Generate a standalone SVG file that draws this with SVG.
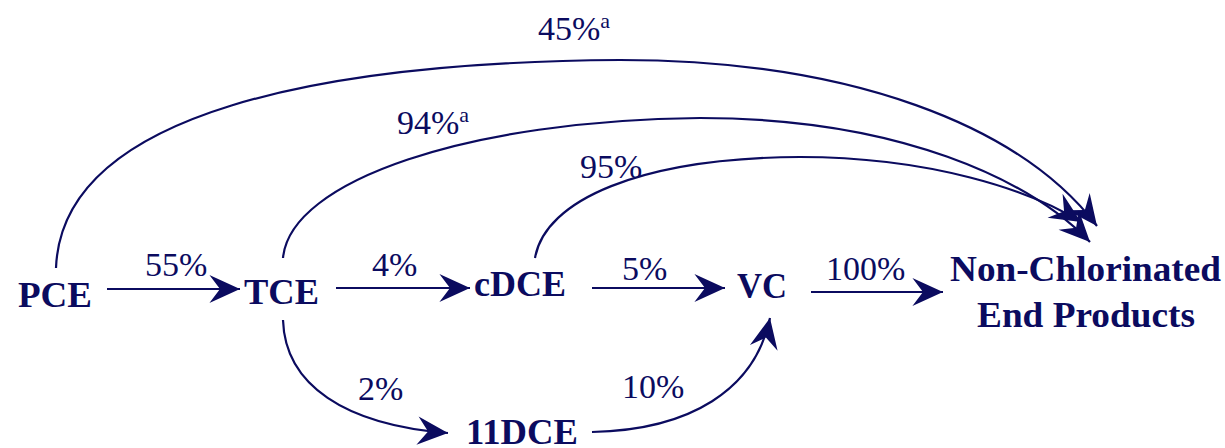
<svg xmlns="http://www.w3.org/2000/svg" width="1225" height="448" viewBox="0 0 1225 448">
<style>
text{font-family:Liberation Serif,"Liberation Serif","Nimbus Roman","Nimbus Roman No9 L",FreeSerif,"Noto Serif",Times,"Times New Roman","DejaVu Serif",serif;fill:#0b0b5f}
.n{font-weight:700;font-size:35px}
.l{font-weight:400;font-size:34px}
.c{fill:none;stroke:#0b0b5f;stroke-width:2.2}
</style>
<defs>
<marker id="ah" markerUnits="userSpaceOnUse" markerWidth="40" markerHeight="40" viewBox="-30 -15 34 30" refX="0" refY="0" orient="auto">
<path d="M0,0 L-26,-12 L-17,0 L-26,12 Z" fill="#0b0b5f"/>
</marker>
</defs>
<rect width="1225" height="448" fill="#fff"/>
<g id="connectors">
<path class="c" d="M107,289 H240" marker-end="url(#ah)"/>
<path class="c" d="M336,288 H470" marker-end="url(#ah)"/>
<path class="c" d="M592,288 H725" marker-end="url(#ah)"/>
<path class="c" d="M811,292 H943" marker-end="url(#ah)"/>
<path class="c" d="M283,320 C285,385 345,425 448,433" marker-end="url(#ah)"/>
<path class="c" d="M592,432 C690,430 755,390 770,318" marker-end="url(#ah)"/>
<path class="c" d="M56,268 C62,110 330,62 620,60 C850,60 1020,125 1097,226" marker-end="url(#ah)"/>
<path class="c" d="M283,258 C290,180 470,120 700,118 C900,118 1030,180 1090,242" marker-end="url(#ah)"/>
<path class="c" d="M535,258 C545,200 640,158 800,157 C930,157 1030,190 1081,222" marker-end="url(#ah)"/>
</g>
<g id="PCE"><text class="n" x="18" y="307" textLength="74" lengthAdjust="spacingAndGlyphs">PCE</text></g>
<g id="TCE"><text class="n" x="244" y="304" textLength="75" lengthAdjust="spacingAndGlyphs">TCE</text></g>
<g id="cDCE"><text class="n" x="474" y="296" textLength="92" lengthAdjust="spacingAndGlyphs">cDCE</text></g>
<g id="VC"><text class="n" x="737" y="298" textLength="50" lengthAdjust="spacingAndGlyphs">VC</text></g>
<g id="DCE11"><text class="n" x="466" y="444" textLength="112" lengthAdjust="spacingAndGlyphs">11DCE</text></g>
<g id="NCEP">
<text class="n" x="950" y="281" textLength="271" lengthAdjust="spacingAndGlyphs">Non-Chlorinated</text>
<text class="n" x="977" y="327" textLength="218" lengthAdjust="spacingAndGlyphs">End Products</text>
</g>
<g id="labels">
<text class="l" x="538" y="40">45%<tspan font-size="22" dy="-12">a</tspan></text>
<text class="l" x="397" y="134">94%<tspan font-size="22" dy="-12">a</tspan></text>
<text class="l" x="580" y="178">95%</text>
<text class="l" x="145" y="276">55%</text>
<text class="l" x="372" y="276">4%</text>
<text class="l" x="622" y="280">5%</text>
<text class="l" x="826" y="280">100%</text>
<text class="l" x="358" y="400">2%</text>
<text class="l" x="622" y="398">10%</text>
</g>
</svg>
